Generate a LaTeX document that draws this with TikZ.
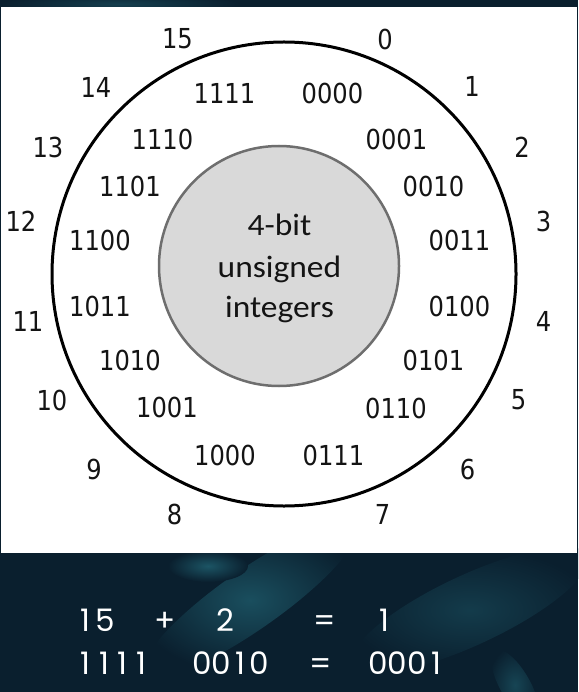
\documentclass[tikz,border=0pt]{standalone}
\usepackage{fontspec}
\newfontfamily\numf{DejaVu Sans}[FakeStretch=0.88]
\newfontfamily\ctrf{Carlito}[FakeStretch=1.08]
\newfontfamily\eqf{Poppins}
\newcommand\tone{\makebox[0.6em][c]{1}}
\definecolor{bgdark}{HTML}{0A1F2E}
\definecolor{bgteal}{HTML}{1F5E6E}
\definecolor{innerfill}{HTML}{D9D9D9}
\definecolor{innerline}{HTML}{6E6E6E}
\definecolor{inktext}{HTML}{141414}
\tikzset{
  outnum/.style={inner sep=0pt, text=inktext, font=\numf\fontsize{27.5}{33}\selectfont},
  binnum/.style={inner sep=0pt, text=inktext, font=\numf\fontsize{27.5}{33}\selectfont},
  ctrtext/.style={inner sep=0pt, anchor=base, text=inktext, font=\ctrf\fontsize{31}{37}\selectfont},
  eqtext/.style={inner sep=0pt, anchor=base, text=white, font=\eqf\fontsize{31}{37}\selectfont},
}
\begin{document}
\begin{tikzpicture}[x=1pt,y=-1pt]
\useasboundingbox (0,0) rectangle (578,692);
% background
\fill[bgdark] (0,0) rectangle (578,692);
\begin{scope}
\clip (0,0) rectangle (578,692);
\shade[inner color=bgteal!75!bgdark, outer color=bgdark, rotate around={35:(250,600)}] (250,600) ellipse [x radius=130pt, y radius=30pt];
\shade[inner color=bgteal!85!bgdark, outer color=bgdark] (208,566) ellipse [x radius=40pt, y radius=16pt];
\shade[inner color=bgteal!45!bgdark, outer color=bgdark, rotate around={25:(470,610)}] (470,610) ellipse [x radius=130pt, y radius=35pt];
\shade[inner color=bgteal!60!bgdark, outer color=bgdark, rotate around={-60:(515,685)}] (515,685) ellipse [x radius=40pt, y radius=15pt];
\shade[inner color=bgteal!50!bgdark, outer color=bgdark] (120,4) ellipse [x radius=120pt, y radius=10pt];
\end{scope}
% white panel
\fill[white] (1,7.5) rectangle (577,553);
% circles
\draw[line width=3pt, black] (284,274) circle [radius=232pt];
\draw[line width=2.5pt, innerline, fill=innerfill] (279,266) circle [radius=120pt];
\node[ctrtext] (c1) at (279.5,236) {4-bit};
\node[ctrtext] (c2) at (279.5,277) {unsigned};
\node[ctrtext] (c3) at (279.5,317) {integers};
% outer numbers
\node[outnum] (o0)  at (385,39)    {0};
\node[outnum] (o1)  at (472,86)    {1};
\node[outnum] (o2)  at (522,147)   {2};
\node[outnum] (o3)  at (543.5,221) {3};
\node[outnum] (o4)  at (543.5,321) {4};
\node[outnum] (o5)  at (518.5,400) {5};
\node[outnum] (o6)  at (467.5,469) {6};
\node[outnum] (o7)  at (382.5,514) {7};
\node[outnum] (o8)  at (174.5,514) {8};
\node[outnum] (o9)  at (94,469)    {9};
\node[outnum] (o10) at (52,400)    {10};
\node[outnum] (o11) at (28,321)    {11};
\node[outnum] (o12) at (21,221)    {12};
\node[outnum] (o13) at (48,147)    {13};
\node[outnum] (o14) at (96,87)     {14};
\node[outnum] (o15) at (177.5,39)  {15};
% binary labels
\node[binnum] (b0)  at (332.5,93)  {0000};
\node[binnum] (b1)  at (396.5,139) {0001};
\node[binnum] (b2)  at (433.5,186) {0010};
\node[binnum] (b3)  at (459.5,240) {0011};
\node[binnum] (b4)  at (459.5,306) {0100};
\node[binnum] (b5)  at (433.5,360) {0101};
\node[binnum] (b6)  at (396,408)   {0110};
\node[binnum] (b7)  at (333.5,455) {0111};
\node[binnum] (b8)  at (225,455)   {1000};
\node[binnum] (b9)  at (167,407.5) {1001};
\node[binnum] (b10) at (130,360)   {1010};
\node[binnum] (b11) at (100,306)   {1011};
\node[binnum] (b12) at (100,240)   {1100};
\node[binnum] (b13) at (130,186)   {1101};
\node[binnum] (b14) at (162.5,139) {1110};
\node[binnum] (b15) at (224.5,93)  {1111};
% equations
\node[eqtext] (e1) at (95.5,631)  {\tone5};
\node[eqtext] (e2) at (165.5,631) {+};
\node[eqtext] (e3) at (225.5,631) {2};
\node[eqtext] (e4) at (325,631)   {=};
\node[eqtext] (e5) at (384,631)   {1};
\node[eqtext] (f1) at (113.5,674) {\tone\tone\tone\tone};
\node[eqtext] (f2) at (230.5,674) {00\tone0};
\node[eqtext] (f3) at (321,674)   {=};
\node[eqtext] (f4) at (407,674)   {000\tone};
\end{tikzpicture}
\end{document}
